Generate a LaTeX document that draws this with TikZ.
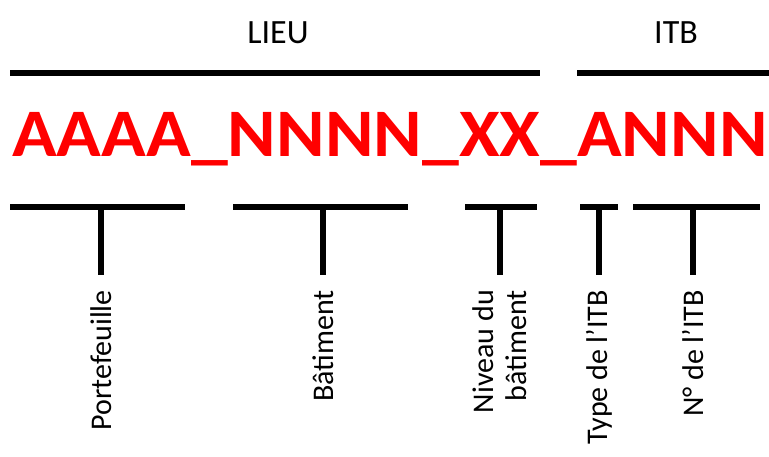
\documentclass[tikz,border=0pt]{standalone}
\usepackage{fontspec}
\setmainfont{Carlito}
\usetikzlibrary{positioning}
\begin{document}
\begin{tikzpicture}[x=1pt,y=-1pt,
  bar/.style={line width=6pt},
  head/.style={font=\fontsize{34}{36}\selectfont,inner sep=0pt},
  lbl/.style={rotate=90,anchor=east,inner sep=0pt,align=right,font=\fontsize{30}{33}\selectfont}]
\useasboundingbox (0,0) rectangle (769,457);
\node[head] (lieu) at (278,33) {LIEU};
\node[head] (itb) at (676,33) {ITB};
\coordinate (lieuL) at (10,73); \coordinate (lieuR) at (540,73);
\coordinate (itbL) at (577,73); \coordinate (itbR) at (769,73);
\draw[bar] (lieuL)--(lieuR) (itbL)--(itbR);
\node[anchor=base west,inner sep=0pt,text=red,font=\fontsize{68}{70}\selectfont\bfseries] (code) at (12,157) {\scalebox{1.085}[1]{AAAA\_NNNN\_XX\_ANNN}};
\foreach \l/\r/\s/\n/\t in {10/185/101/pf/Portefeuille,233/408/323/bat/Bâtiment,465/537/500/niv/{Niveau du\\bâtiment},580/618/599/typ/Type de l'ITB,633/760/693/num/N° de l'ITB}{
  \coordinate (\n L) at (\l,207); \coordinate (\n R) at (\r,207);
  \coordinate (\n S) at (\s,207); \coordinate (\n E) at (\s,275);
  \draw[bar] (\n L)--(\n R) (\n S)--(\n E);
  \node[lbl] (\n) at (\s,290) {\t};
}
\end{tikzpicture}
\end{document}
